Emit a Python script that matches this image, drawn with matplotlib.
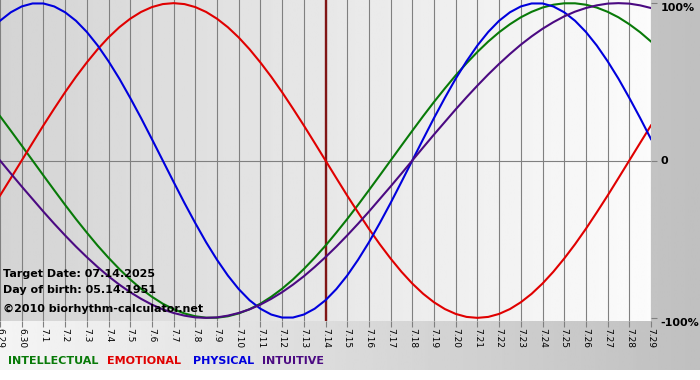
import numpy as np
import matplotlib.pyplot as plt

# days shown on the chart (6.29 -> 7.29)
days = ["6.29", "6.30"] + ["7.%d" % d for d in range(1, 30)]

# values, every half day from 6.29 to 7.29
physical = [0.888, 0.942, 0.979, 0.998, 0.998, 0.979, 0.942, 0.888, 0.817, 0.731,
            0.631, 0.520, 0.398, 0.270, 0.136, 0.0, -0.136, -0.270, -0.398, -0.520,
            -0.631, -0.731, -0.817, -0.888, -0.942, -0.979, -0.998, -0.998, -0.979, -0.942,
            -0.888, -0.817, -0.731, -0.631, -0.520, -0.398, -0.270, -0.136, 0.0, 0.136,
            0.270, 0.398, 0.520, 0.631, 0.731, 0.817, 0.888, 0.942, 0.979, 0.998,
            0.998, 0.979, 0.942, 0.888, 0.817, 0.731, 0.631, 0.520, 0.398, 0.270, 0.136]
emotional = [-0.223, -0.112, 0.0, 0.112, 0.223, 0.330, 0.434, 0.532, 0.623, 0.707,
             0.782, 0.847, 0.901, 0.944, 0.975, 0.994, 1.0, 0.994, 0.975, 0.944,
             0.901, 0.847, 0.782, 0.707, 0.623, 0.532, 0.434, 0.330, 0.223, 0.112,
             0.0, -0.112, -0.223, -0.330, -0.434, -0.532, -0.623, -0.707, -0.782, -0.847,
             -0.901, -0.944, -0.975, -0.994, -1.0, -0.994, -0.975, -0.944, -0.901, -0.847,
             -0.782, -0.707, -0.623, -0.532, -0.434, -0.330, -0.223, -0.112, 0.0, 0.112, 0.223]
intellectual = [0.282, 0.189, 0.095, 0.0, -0.095, -0.189, -0.282, -0.372, -0.458, -0.541,
                -0.618, -0.690, -0.756, -0.815, -0.866, -0.910, -0.945, -0.972, -0.990, -0.999,
                -0.999, -0.990, -0.972, -0.945, -0.910, -0.866, -0.815, -0.756, -0.690, -0.618,
                -0.541, -0.458, -0.372, -0.282, -0.189, -0.095, 0.0, 0.095, 0.189, 0.282,
                0.372, 0.458, 0.541, 0.618, 0.690, 0.756, 0.815, 0.866, 0.910, 0.945,
                0.972, 0.990, 0.999, 0.999, 0.990, 0.972, 0.945, 0.910, 0.866, 0.815, 0.756]
intuitive = [0.0, -0.083, -0.165, -0.245, -0.325, -0.402, -0.476, -0.547, -0.614, -0.677,
             -0.736, -0.789, -0.837, -0.879, -0.916, -0.946, -0.969, -0.986, -0.997, -1.0,
             -0.997, -0.986, -0.969, -0.946, -0.916, -0.879, -0.837, -0.789, -0.736, -0.677,
             -0.614, -0.547, -0.476, -0.402, -0.325, -0.245, -0.165, -0.083, 0.0, 0.083,
             0.165, 0.245, 0.325, 0.402, 0.476, 0.547, 0.614, 0.677, 0.736, 0.789,
             0.837, 0.879, 0.916, 0.946, 0.969, 0.986, 0.997, 1.0, 0.997, 0.986, 0.969]

target_idx = 15  # 7.14
info = ["Target Date: 07.14.2025", "Day of birth: 05.14.1951", "\u00a92010 biorhythm-calculator.net"]
legend_names = ["INTELLECTUAL", "EMOTIONAL", "PHYSICAL", "INTUITIVE"]
col_int = "#087a08"
col_emo = "#e00000"
col_phy = "#0000dd"
col_itu = "#4b0a82"

W, H = 700, 380
fig = plt.figure(figsize=(7, 3.8), dpi=100)

# figure background: light on the left, gray on the right, white strip at bottom
bg = fig.add_axes([0, 0, 1, 1])
grad = np.linspace(0.96, 0.75, 256).reshape(1, -1)
bg.imshow(grad, cmap="gray", vmin=0, vmax=1, aspect="auto", extent=[0, 1, 10 / H, 1])
bg.set_xlim(0, 1)
bg.set_ylim(0, 1)
bg.axis("off")

ax = fig.add_axes([0, 1 - 321 / H, 651 / W, 321 / H])
x = np.arange(len(days))
xh = np.arange(len(physical)) / 2.0
ax.set_xlim(0, 30)
ax.set_ylim(-1.02, 1.02)

g2 = np.linspace(0.83, 0.985, 256).reshape(1, -1)
ax.imshow(g2, cmap="gray", vmin=0, vmax=1, aspect="auto",
          extent=[0, 30, -1.02, 1.02], zorder=0)

for i in x:
    ax.axvline(i, color="#808080", lw=0.8, zorder=1)
ax.axhline(0, color="#808080", lw=0.8, zorder=1)
ax.axvline(target_idx, color="#801515", lw=1.7, zorder=2)

ax.plot(xh, intellectual, color=col_int, lw=1.5, zorder=3)
ax.plot(xh, emotional, color=col_emo, lw=1.5, zorder=3)
ax.plot(xh, physical, color=col_phy, lw=1.5, zorder=3)
ax.plot(xh, intuitive, color=col_itu, lw=1.5, zorder=3)

for s in ax.spines.values():
    s.set_visible(False)

ax.set_xticks(x)
ax.set_xticklabels(days, rotation=270, fontsize=6.5, va="top", ha="center")
ax.tick_params(axis="x", length=4, color="#808080", pad=1)
ax.yaxis.tick_right()
ax.set_yticks([1, 0, -1])
ax.set_yticklabels(["100%", "0", "-100%"], fontsize=8, fontweight="bold")
ax.tick_params(axis="y", length=4, color="#808080", pad=3)
# nudge the right labels like the original
lbls = ax.get_yticklabels()
lbls[0].set_va("top")
lbls[2].set_va("top")

ys = [277, 293, 312]
for t, yy in zip(info, ys):
    fig.text(3 / W, 1 - yy / H, t, fontsize=8, fontweight="bold", color="black",
             va="baseline", ha="left", zorder=10)

xs = [8, 107, 193, 262]
for name, xx, c in zip(legend_names, xs, [col_int, col_emo, col_phy, col_itu]):
    fig.text(xx / W, 1 - 361 / H, name, fontsize=8, fontweight="bold", color=c,
             va="center", ha="left")

fig.savefig("out.png", dpi=100)
